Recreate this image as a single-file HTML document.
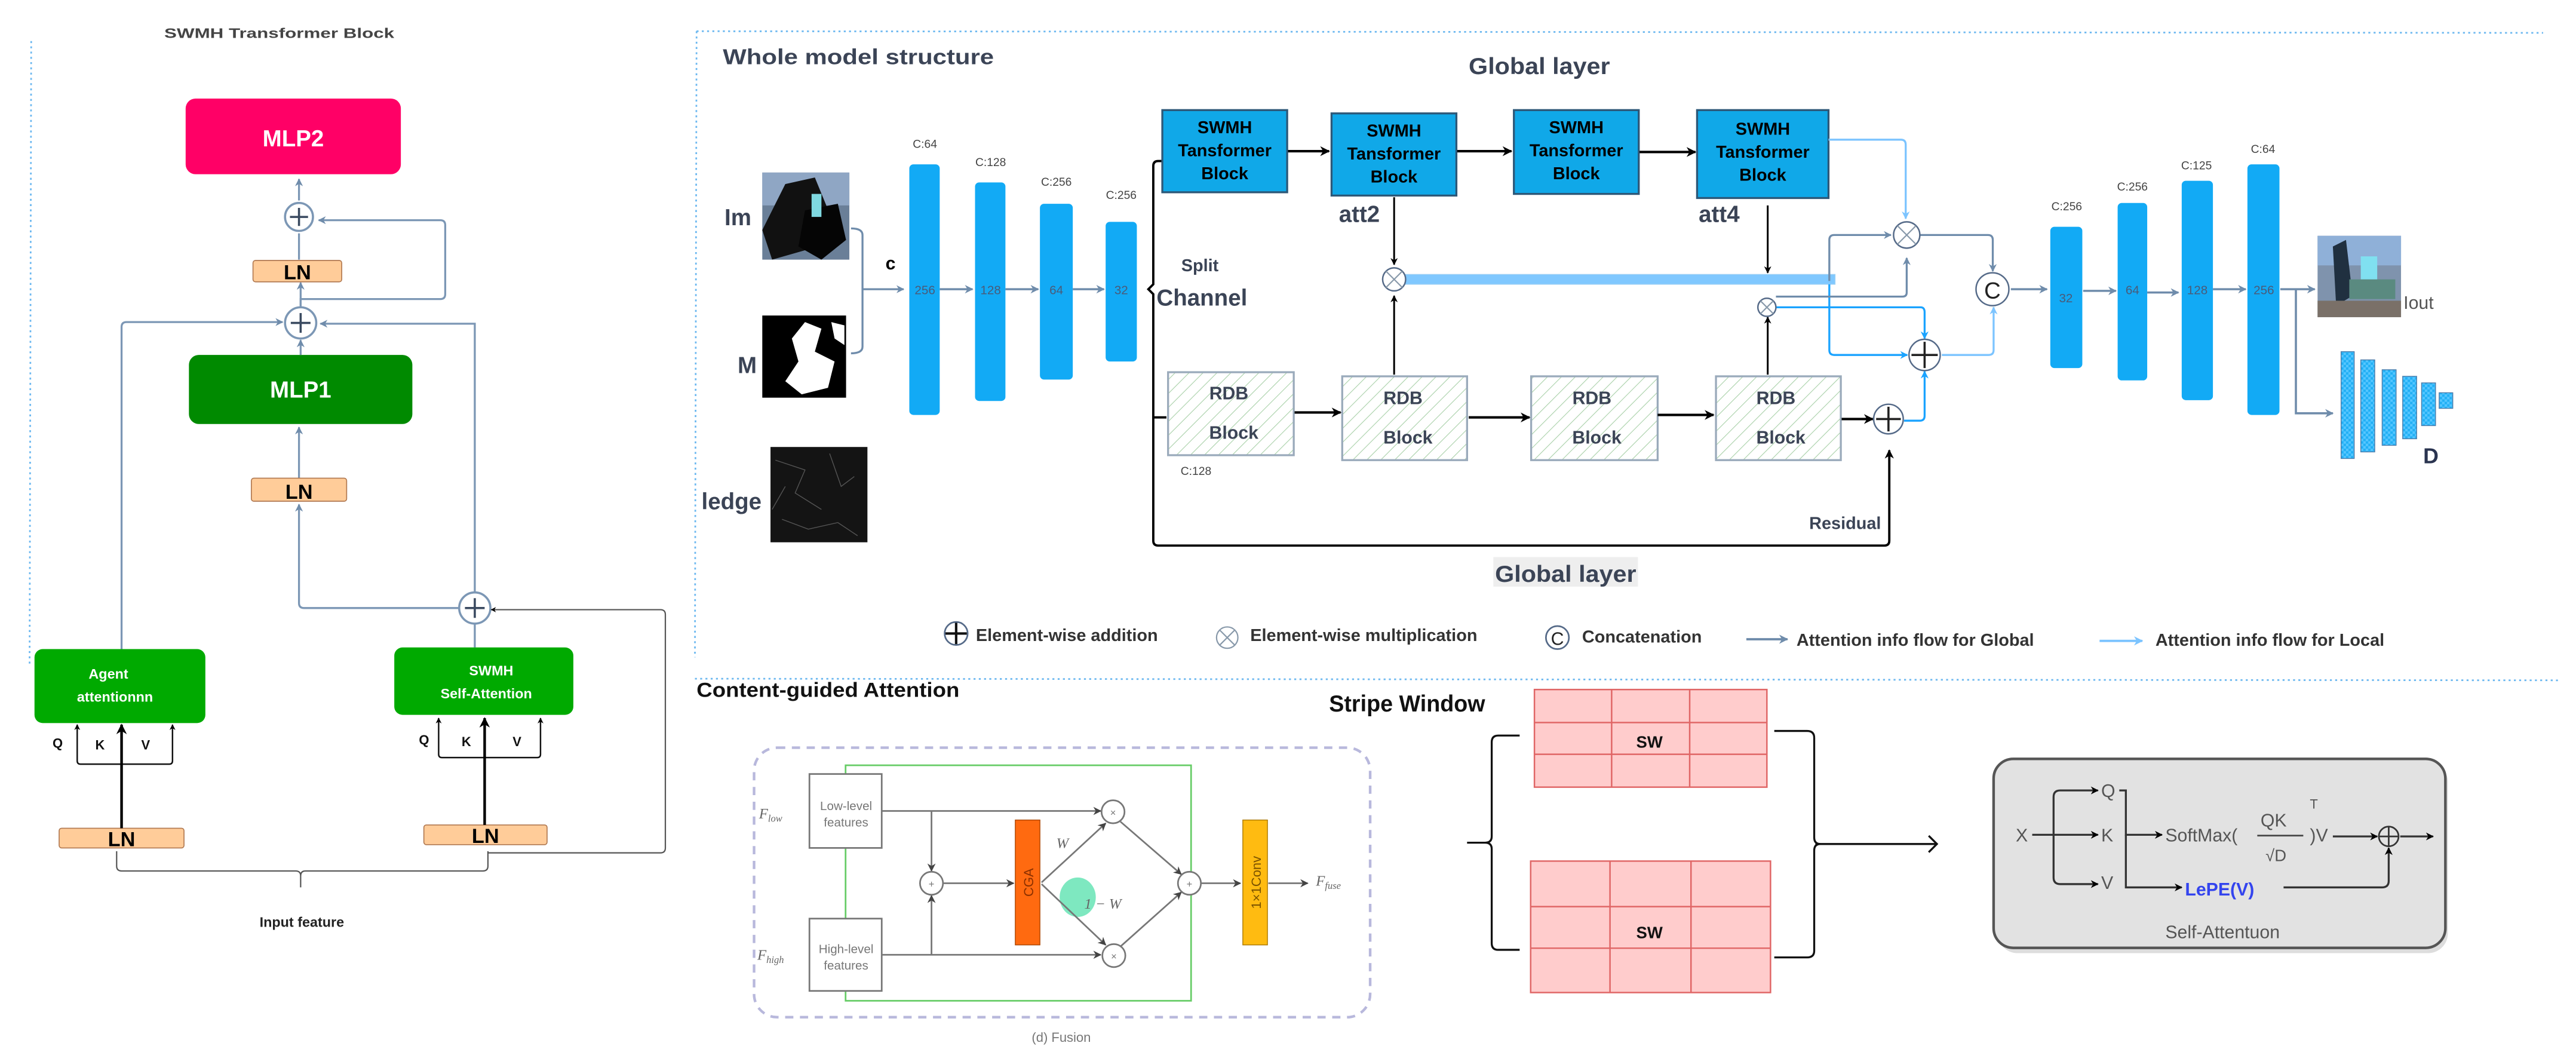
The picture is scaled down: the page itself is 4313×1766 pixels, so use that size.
<!DOCTYPE html>
<html><head><meta charset="utf-8"><style>
html,body{margin:0;padding:0;background:#fff;width:4313px;height:1766px;overflow:hidden}
svg{display:block}
text{font-family:"Liberation Sans Narrow","Liberation Sans",sans-serif}
.w{font-family:"Liberation Sans",sans-serif}
</style></head><body>
<svg width="4313" height="1766" viewBox="0 0 1568 642" preserveAspectRatio="none" xmlns="http://www.w3.org/2000/svg">
<defs>
<marker id="ak" viewBox="0 0 10 10" refX="9" refY="5" markerWidth="4" markerHeight="4" orient="auto-start-reverse"><path d="M0,0 L10,5 L0,10 L3,5z" fill="#000"/></marker>
<marker id="ag" viewBox="0 0 10 10" refX="9" refY="5" markerWidth="4" markerHeight="4" orient="auto-start-reverse"><path d="M0,0 L10,5 L0,10 L3,5z" fill="#6f8cab"/></marker>
<marker id="al" viewBox="0 0 10 10" refX="9" refY="5" markerWidth="4" markerHeight="4" orient="auto-start-reverse"><path d="M0,0 L10,5 L0,10 L3,5z" fill="#7cc4ff"/></marker>
<marker id="ab" viewBox="0 0 10 10" refX="9" refY="5" markerWidth="4" markerHeight="4" orient="auto-start-reverse"><path d="M0,0 L10,5 L0,10 L3,5z" fill="#1aa3ff"/></marker>
<marker id="ad" viewBox="0 0 10 10" refX="9" refY="5" markerWidth="5" markerHeight="5" orient="auto-start-reverse"><path d="M0,0 L10,5 L0,10 L3,5z" fill="#444"/></marker>
<pattern id="hatch" width="6" height="6" patternUnits="userSpaceOnUse" patternTransform="rotate(45)"><line x1="0" y1="0" x2="0" y2="6" stroke="#a8d0a8" stroke-width="0.8"/></pattern>
<pattern id="chk" width="3" height="3" patternUnits="userSpaceOnUse"><rect width="3" height="3" fill="#22b0f5"/><rect width="1.5" height="1.5" fill="#55c6ff"/><rect x="1.5" y="1.5" width="1.5" height="1.5" fill="#55c6ff"/></pattern>
</defs>

<!-- ============ LEFT PANEL ============ -->
<text x="100" y="23" font-size="8.5" font-weight="bold" fill="#444" class="w" textLength="140" lengthAdjust="spacingAndGlyphs">SWMH Transformer Block</text>
<line x1="19" y1="25" x2="18" y2="405" stroke="#6cb8f0" stroke-width="1" stroke-dasharray="1.2,2"/>

<rect x="113" y="60" width="131" height="46" rx="6" fill="#ff0066"/>
<text x="178.5" y="89" font-size="14" font-weight="bold" fill="#fff" text-anchor="middle" class="w">MLP2</text>
<rect x="115" y="216" width="136" height="42" rx="6" fill="#008a00"/>
<text x="183" y="242" font-size="14" font-weight="bold" fill="#fff" text-anchor="middle" class="w">MLP1</text>

<g stroke="#7c97b5" stroke-width="1.2" fill="none">
<line x1="182" y1="158" x2="182" y2="142" />
<line x1="182" y1="122" x2="182" y2="109" marker-end="url(#ag)"/>
<path d="M183,187 L183,182 L268,182 Q271,182 271,179 L271,137 Q271,134 268,134 L194,134" marker-end="url(#ag)"/>
<line x1="183" y1="186" x2="183" y2="172" marker-end="url(#ag)"/>
<line x1="183" y1="216" x2="183" y2="207" marker-end="url(#ag)"/>
<line x1="182" y1="291" x2="182" y2="260" marker-end="url(#ag)"/>
<path d="M74,395 L74,199 Q74,196 77,196 L172,196" marker-end="url(#ag)"/>
<path d="M289,360 L289,197 L195,197" marker-end="url(#ag)"/>
<path d="M280,370 L185,370 Q182,370 182,367 L182,307" marker-end="url(#ag)"/>
<line x1="289" y1="380" x2="289" y2="394"/>
</g>
<g fill="#fff" stroke="#7c97b5" stroke-width="1.3">
<circle cx="182" cy="132" r="8.5"/><circle cx="183" cy="196.5" r="9.5"/><circle cx="289" cy="370" r="9.5"/>
</g>
<g stroke="#3a4a60" stroke-width="1.3">
<line x1="176.5" y1="132" x2="187.5" y2="132"/><line x1="182" y1="126.5" x2="182" y2="137.5"/>
<line x1="177" y1="196.5" x2="189" y2="196.5"/><line x1="183" y1="190.5" x2="183" y2="202.5"/>
<line x1="283" y1="370" x2="295" y2="370"/><line x1="289" y1="364" x2="289" y2="376"/>
</g>

<g fill="#ffcc99" stroke="#b07850" stroke-width="0.6">
<rect x="154" y="158.5" width="54" height="13" rx="1.5"/>
<rect x="153" y="291" width="58" height="14" rx="1.5"/>
<rect x="36" y="504" width="76" height="12" rx="1.5"/>
<rect x="258" y="502" width="75" height="12" rx="1.5"/>
</g>
<g font-size="12.5" font-weight="bold" fill="#000" text-anchor="middle" class="w">
<text x="181" y="170">LN</text><text x="182" y="303.5">LN</text>
<text x="74" y="515">LN</text><text x="295.5" y="513">LN</text>
</g>

<rect x="21" y="395" width="104" height="45" rx="5" fill="#00aa00"/>
<text x="66" y="413" font-size="8.5" font-weight="bold" fill="#fff" text-anchor="middle" class="w">Agent</text>
<text x="70" y="427" font-size="8.5" font-weight="bold" fill="#fff" text-anchor="middle" class="w">attentionnn</text>
<rect x="240" y="394" width="109" height="41" rx="5" fill="#00aa00"/>
<text x="299" y="411" font-size="8.5" font-weight="bold" fill="#fff" text-anchor="middle" class="w">SWMH</text>
<text x="296" y="425" font-size="8.5" font-weight="bold" fill="#fff" text-anchor="middle" class="w">Self-Attention</text>

<g stroke="#111" stroke-width="0.9" fill="none">
<path d="M47,441 L47,463 Q47,465 49,465 L103,465 Q105,465 105,463 L105,441" marker-start="url(#ak)" marker-end="url(#ak)"/>
<path d="M267,437 L267,459 Q267,461 269,461 L327,461 Q329,461 329,459 L329,437" marker-start="url(#ak)" marker-end="url(#ak)"/>
</g>
<line x1="74" y1="504" x2="74" y2="441" stroke="#000" stroke-width="1.6" marker-end="url(#ak)"/>
<line x1="295" y1="502" x2="295" y2="437" stroke="#000" stroke-width="1.6" marker-end="url(#ak)"/>
<g font-size="8" font-weight="bold" fill="#111" class="w">
<text x="32" y="455">Q</text><text x="58" y="456">K</text><text x="86" y="456">V</text>
<text x="255" y="453">Q</text><text x="281" y="454">K</text><text x="312" y="454">V</text>
</g>
<path d="M71,518 L71,527 Q71,530 74,530 L180,530 Q183,530 183,533 L183,540 M183,533 Q183,530 186,530 L294,530 Q297,530 297,527 L297,518" stroke="#555" stroke-width="0.8" fill="none"/>
<path d="M297,519 L402,519 Q405,519 405,516 L405,374 Q405,371 402,371 L299,371" stroke="#555" stroke-width="0.8" fill="none" marker-end="url(#ak)"/>
<text x="158" y="564" font-size="8.5" font-weight="bold" fill="#222" class="w">Input feature</text>

<!-- ============ WHOLE MODEL ============ -->
<line x1="424" y1="19" x2="1548" y2="20" stroke="#6cb8f0" stroke-width="1" stroke-dasharray="1.2,2"/>
<line x1="424" y1="19" x2="423" y2="400" stroke="#6cb8f0" stroke-width="1" stroke-dasharray="1.2,2"/>
<line x1="423" y1="413" x2="1558" y2="414" stroke="#6cb8f0" stroke-width="1" stroke-dasharray="1.2,2"/>

<text x="440" y="39" font-size="13" font-weight="bold" fill="#3b4456" textLength="165" lengthAdjust="spacingAndGlyphs">Whole model structure</text>
<text x="894" y="45" font-size="14" font-weight="bold" fill="#3b4456" textLength="86" lengthAdjust="spacingAndGlyphs">Global layer</text>

<!-- images -->
<rect x="464" y="105" width="53" height="53" fill="#6a7f98"/>
<rect x="464" y="105" width="53" height="20" fill="#8fa6c4"/>
<path d="M478,112 L496,108 L505,130 L498,150 L470,158 L464,140z" fill="#111"/>
<path d="M490,128 L510,124 L515,146 L500,158 L486,150z" fill="#050505"/>
<rect x="494" y="118" width="6" height="14" fill="#7fd8e0"/>
<rect x="464" y="192" width="51" height="50" fill="#000"/>
<path d="M490,196 L500,200 L496,214 L508,220 L504,236 L488,240 L478,232 L486,220 L482,206z" fill="#fff"/>
<path d="M506,196 L514,198 L514,210 L508,206z" fill="#fff"/>
<rect x="469" y="272" width="59" height="58" fill="#141414"/>
<g stroke="#555" stroke-width="0.5" fill="none"><path d="M472,280 L490,286 L484,300 L500,310 M505,276 L512,296 L520,290 M476,316 L492,322 L510,318 L522,326 M478,296 L470,310"/></g>
<text x="441" y="137" font-size="14" font-weight="bold" fill="#3b4456">Im</text>
<text x="449" y="227" font-size="14" font-weight="bold" fill="#3b4456">M</text>
<text x="427" y="310" font-size="14" font-weight="bold" fill="#3b4456">ledge</text>
<path d="M518,139 Q525,139 525,143 L525,211 Q525,215 518,215 M525,176 L550,176" stroke="#6f8cab" stroke-width="1.2" fill="none" marker-end="url(#ag)"/>
<text x="539" y="164" font-size="11" font-weight="bold" fill="#000" class="w">c</text>

<!-- encoder -->
<g fill="#12aaf5">
<rect x="553.5" y="100" width="18.5" height="152.5" rx="2.5"/>
<rect x="593.5" y="111" width="18.5" height="133" rx="2.5"/>
<rect x="633" y="124" width="20" height="107" rx="2.5"/>
<rect x="673" y="135" width="19" height="85" rx="2.5"/>
<rect x="1248" y="138" width="19.5" height="86" rx="2.5"/>
<rect x="1289" y="123.5" width="18" height="108" rx="2.5"/>
<rect x="1328" y="110" width="19" height="133.5" rx="2.5"/>
<rect x="1368" y="100" width="19.5" height="152.5" rx="2.5"/>
</g>
<g font-size="7" fill="#444" text-anchor="middle">
<text x="563" y="90">C:64</text><text x="603" y="101">C:128</text><text x="643" y="113">C:256</text><text x="682.5" y="121">C:256</text>
<text x="1258" y="128">C:256</text><text x="1298" y="116">C:256</text><text x="1337" y="103">C:125</text><text x="1377.5" y="93">C:64</text>
<text x="728" y="289">C:128</text>
</g>
<g font-size="7.5" fill="#4a5a78" text-anchor="middle">
<text x="563" y="179">256</text><text x="603" y="179">128</text><text x="643" y="179">64</text><text x="682.5" y="179">32</text>
<text x="1257.5" y="184">32</text><text x="1298" y="179">64</text><text x="1337.5" y="179">128</text><text x="1378" y="179">256</text>
</g>
<g stroke="#6f8cab" stroke-width="1.3" marker-end="url(#ag)">
<line x1="572" y1="176" x2="592" y2="176"/><line x1="612" y1="176" x2="632" y2="176"/><line x1="653" y1="176" x2="672" y2="176"/>
<line x1="1224" y1="176" x2="1246" y2="176"/><line x1="1268" y1="177" x2="1288" y2="177"/><line x1="1307" y1="178" x2="1326" y2="178"/><line x1="1347" y1="176" x2="1367" y2="176"/>
<line x1="1388" y1="176" x2="1409" y2="176"/>
</g>
<path d="M1397.5,176 L1397.5,251.5 L1420,251.5" stroke="#6f8cab" stroke-width="1.3" fill="none" marker-end="url(#ag)"/>

<!-- split brace -->
<path d="M708,98 L705,98 Q702,98 702,101 L702,173 L699,176 L702,179 L702,329 Q702,332 705,332 L1147,332 Q1150,332 1150,329 L1150,274" stroke="#000" stroke-width="1.4" fill="none" marker-end="url(#ak)"/>
<line x1="702" y1="254" x2="710" y2="254" stroke="#000" stroke-width="1.4"/>
<text x="719" y="165" font-size="10.5" font-weight="bold" fill="#3b4456">Split</text>
<text x="704" y="186" font-size="14" font-weight="bold" fill="#3b4456">Channel</text>

<!-- SWMH blocks -->
<g fill="#10a8e8" stroke="#2d5878" stroke-width="1.2">
<rect x="707.5" y="67" width="76" height="50"/>
<rect x="810.5" y="69" width="76" height="50"/>
<rect x="921.5" y="67" width="76" height="51"/>
<rect x="1033" y="67" width="80" height="53.5"/>
</g>
<g font-size="10.5" font-weight="bold" fill="#000" text-anchor="middle">
<text x="745.5" y="81">SWMH</text><text x="745.5" y="95">Tansformer</text><text x="745.5" y="109">Block</text>
<text x="848.5" y="83">SWMH</text><text x="848.5" y="97">Tansformer</text><text x="848.5" y="111">Block</text>
<text x="959.5" y="81">SWMH</text><text x="959.5" y="95">Tansformer</text><text x="959.5" y="109">Block</text>
<text x="1073" y="82">SWMH</text><text x="1073" y="96">Tansformer</text><text x="1073" y="110">Block</text>
</g>
<g stroke="#000" stroke-width="1.5" marker-end="url(#ak)">
<line x1="784" y1="92" x2="809" y2="92"/><line x1="887" y1="92" x2="920" y2="92"/><line x1="998" y1="92.5" x2="1032" y2="92.5"/>
</g>
<text x="815" y="135" font-size="14" font-weight="bold" fill="#3b4456">att2</text>
<text x="1034" y="135" font-size="14" font-weight="bold" fill="#3b4456">att4</text>

<!-- light blue bar -->
<rect x="855" y="167" width="262" height="6" fill="#80c8ff" stroke="#9bd0f5" stroke-width="0.5"/>

<!-- RDB blocks -->
<g fill="url(#hatch)" stroke="#9aaabb" stroke-width="1.2">
<rect x="711" y="226.5" width="76.5" height="50.5"/>
<rect x="817" y="229" width="76" height="51"/>
<rect x="932" y="229" width="77" height="51"/>
<rect x="1044.5" y="229" width="76" height="51"/>
</g>
<g font-size="11" font-weight="bold" fill="#3b4456" text-anchor="middle">
<text x="748" y="243">RDB</text><text x="751" y="267">Block</text>
<text x="854" y="246">RDB</text><text x="857" y="270">Block</text>
<text x="969" y="246">RDB</text><text x="972" y="270">Block</text>
<text x="1081" y="246">RDB</text><text x="1084" y="270">Block</text>
</g>
<g stroke="#000" stroke-width="1.5" marker-end="url(#ak)">
<line x1="788" y1="251" x2="816" y2="251"/><line x1="894" y1="254" x2="931" y2="254"/><line x1="1009" y1="252.5" x2="1043" y2="252.5"/>
<line x1="1121" y1="255" x2="1140" y2="255"/>
</g>
<g stroke="#000" stroke-width="1.1" marker-end="url(#ak)">
<line x1="848.6" y1="120" x2="848.6" y2="161"/><line x1="848.6" y1="228" x2="848.6" y2="180"/>
<line x1="1076" y1="125" x2="1076" y2="166"/><line x1="1076" y1="228" x2="1076" y2="193"/>
</g>

<!-- connections to C -->
<path d="M1113,85 L1157,85 Q1160,85 1160,88 L1160,133" stroke="#7cc4ff" stroke-width="1.2" fill="none" marker-end="url(#al)"/>
<path d="M1113.5,171 L1113.5,146 Q1113.5,143 1116.5,143 L1151,143" stroke="#6f8cab" stroke-width="1.2" fill="none" marker-end="url(#ag)"/>
<path d="M1113.5,173 L1113.5,213 Q1113.5,216 1116.5,216 L1161,216" stroke="#1aa3ff" stroke-width="1.2" fill="none" marker-end="url(#ab)"/>
<path d="M1081,180.5 L1158,180.5 Q1160.6,180.5 1160.6,178 L1160.6,157" stroke="#6f8cab" stroke-width="1.2" fill="none" marker-end="url(#ag)"/>
<path d="M1081,187 L1169,187 Q1171.5,187 1171.5,190 L1171.5,206" stroke="#1aa3ff" stroke-width="1.2" fill="none" marker-end="url(#ab)"/>
<path d="M1169,143 L1210,143 Q1213,143 1213,146 L1213,165" stroke="#6f8cab" stroke-width="1.2" fill="none" marker-end="url(#ag)"/>
<path d="M1182,216 L1210.5,216 Q1213.5,216 1213.5,213 L1213.5,187" stroke="#7cc4ff" stroke-width="1.2" fill="none" marker-end="url(#al)"/>
<path d="M1159,256 L1168.5,256 Q1171.5,256 1171.5,253 L1171.5,226" stroke="#1aa3ff" stroke-width="1.2" fill="none" marker-end="url(#ab)"/>
<text x="1145" y="322" font-size="10.5" font-weight="bold" fill="#3b4456" text-anchor="end">Residual</text>

<!-- circles -->
<g fill="#fff" stroke="#556a88" stroke-width="0.9">
<circle cx="848.6" cy="170" r="7"/><circle cx="1160.6" cy="143" r="8"/><circle cx="1075.5" cy="187" r="5.5"/>
<circle cx="1149.5" cy="255" r="9"/><circle cx="1171.5" cy="216" r="9.5"/><circle cx="1212.8" cy="176" r="10"/>
</g>
<g stroke="#8899aa" stroke-width="0.8">
<path d="M843.6,165 L853.6,175 M853.6,165 L843.6,175"/>
<path d="M1155,137.4 L1166.2,148.6 M1166.2,137.4 L1155,148.6"/>
<path d="M1071.6,183.1 L1079.4,190.9 M1079.4,183.1 L1071.6,190.9"/>
</g>
<g stroke="#222" stroke-width="1.3">
<path d="M1142,255 L1157,255 M1149.5,247.5 L1149.5,262.5"/>
<path d="M1163.5,216 L1179.5,216 M1171.5,208 L1171.5,224"/>
</g>
<text x="1212.8" y="181.5" font-size="14" fill="#222" text-anchor="middle">C</text>

<!-- output -->
<rect x="1410.7" y="143.5" width="50.8" height="49.5" fill="#7f93ad"/>
<rect x="1410.7" y="143.5" width="50.8" height="18" fill="#8fb0d8"/>
<path d="M1420,150 L1428,146 L1432,180 L1422,186z" fill="#203040"/>
<rect x="1437" y="156" width="10" height="16" fill="#80e0f0"/>
<rect x="1430" y="170" width="28" height="12" fill="#5a8a80"/>
<rect x="1410.7" y="183" width="50.8" height="10" fill="#7a7068"/>
<text x="1463" y="188" font-size="11" fill="#555">Iout</text>
<g fill="url(#chk)" stroke="#4a7aa8" stroke-width="0.5">
<rect x="1425" y="214" width="8" height="65"/><rect x="1437" y="219" width="8.5" height="56"/><rect x="1450" y="225" width="8.5" height="46"/>
<rect x="1462.5" y="229" width="8.5" height="38"/><rect x="1474" y="233" width="8.5" height="26"/><rect x="1484.7" y="239" width="8.3" height="9.5"/>
</g>
<text x="1475" y="282" font-size="13" font-weight="bold" fill="#2a3450" class="w">D</text>

<!-- lower global layer -->
<rect x="909" y="339" width="88" height="18" fill="#eeeeee"/>
<text x="910" y="354" font-size="14" font-weight="bold" fill="#3b4456" textLength="86" lengthAdjust="spacingAndGlyphs">Global layer</text>

<!-- legend -->
<circle cx="582" cy="385.5" r="7" fill="#fff" stroke="#556a88" stroke-width="1"/>
<path d="M575.5,385.5 L588.5,385.5 M582,379 L582,392" stroke="#111" stroke-width="1.5"/>
<text x="594" y="390" font-size="10.5" font-weight="bold" fill="#333">Element-wise addition</text>
<circle cx="747" cy="388" r="6.5" fill="#fff" stroke="#8899aa" stroke-width="0.8"/>
<path d="M742.4,383.4 L751.6,392.6 M751.6,383.4 L742.4,392.6" stroke="#8899aa" stroke-width="0.8"/>
<text x="761" y="390" font-size="10.5" font-weight="bold" fill="#333">Element-wise multiplication</text>
<circle cx="948" cy="388" r="7" fill="#fff" stroke="#556a88" stroke-width="1"/>
<text x="948" y="392.5" font-size="11" fill="#222" text-anchor="middle">C</text>
<text x="963" y="391" font-size="10.5" font-weight="bold" fill="#333">Concatenation</text>
<line x1="1063" y1="389" x2="1088" y2="389" stroke="#6f8cab" stroke-width="1.4" marker-end="url(#ag)"/>
<text x="1093.5" y="393" font-size="10.5" font-weight="bold" fill="#333">Attention info flow for Global</text>
<line x1="1278" y1="390" x2="1304" y2="390" stroke="#7cc4ff" stroke-width="1.4" marker-end="url(#al)"/>
<text x="1312" y="393" font-size="10.5" font-weight="bold" fill="#333">Attention info flow for Local</text>

<!-- ============ CONTENT-GUIDED ATTENTION ============ -->
<text x="424" y="424" font-size="12.5" font-weight="bold" fill="#111" textLength="160" lengthAdjust="spacingAndGlyphs">Content-guided Attention</text>
<rect x="459" y="455" width="375" height="164" rx="14" fill="none" stroke="#b8b8dc" stroke-width="1.6" stroke-dasharray="5,4"/>
<rect x="514.7" y="465.7" width="210.3" height="143.3" fill="none" stroke="#66cc66" stroke-width="1"/>
<g fill="#fff" stroke="#777" stroke-width="1">
<rect x="492.7" y="471" width="44" height="45"/><rect x="492.7" y="559" width="44" height="44"/>
</g>
<g font-size="7.5" fill="#777" text-anchor="middle">
<text x="515" y="493">Low-level</text><text x="515" y="503">features</text>
<text x="515" y="580">High-level</text><text x="515" y="590">features</text>
</g>
<g font-size="9" font-style="italic" fill="#666" font-family="Liberation Serif,serif">
<text x="462" y="498" style="font-family:'Liberation Serif',serif">F<tspan font-size="6" dy="2">low</tspan></text>
<text x="461" y="584" style="font-family:'Liberation Serif',serif">F<tspan font-size="6" dy="2">high</tspan></text>
<text x="801" y="539" style="font-family:'Liberation Serif',serif">F<tspan font-size="6" dy="2">fuse</tspan></text>
<text x="643" y="516" style="font-family:'Liberation Serif',serif">W</text>
</g>
<ellipse cx="656" cy="546" rx="11" ry="12" fill="#7ee8c0"/>
<text x="660" y="553" font-size="9" font-style="italic" fill="#666" style="font-family:'Liberation Serif',serif">1 − W</text>
<g stroke="#777" stroke-width="1" fill="none" marker-end="url(#ad)">
<line x1="537" y1="493.5" x2="670" y2="493.5"/><line x1="537" y1="581" x2="670" y2="581"/>
<line x1="567" y1="493.5" x2="567" y2="530"/><line x1="567" y1="581" x2="567" y2="545"/>
<line x1="574" y1="537.5" x2="617" y2="537.5"/>
<line x1="634" y1="537" x2="673" y2="501"/><line x1="634" y1="538" x2="673" y2="575"/>
<line x1="682" y1="500" x2="719" y2="532"/><line x1="682" y1="576" x2="719" y2="543"/>
<line x1="731" y1="537.5" x2="755" y2="537.5"/><line x1="772" y1="537.5" x2="796" y2="537.5"/>
</g>
<g fill="#fff" stroke="#777" stroke-width="1">
<circle cx="567" cy="537.5" r="7"/><circle cx="677.5" cy="494" r="7"/><circle cx="678" cy="581.5" r="7"/><circle cx="724" cy="537.5" r="7"/>
</g>
<g font-size="6" fill="#777" text-anchor="middle"><text x="567" y="540">+</text><text x="677.5" y="496.5">×</text><text x="678" y="584">×</text><text x="724" y="540">+</text></g>
<rect x="618" y="499" width="15" height="76" fill="#ff6a10" stroke="#aa4400" stroke-width="0.5"/>
<rect x="756.5" y="499" width="15" height="76" fill="#ffbb11" stroke="#aa7700" stroke-width="0.5"/>
<text transform="translate(629,537) rotate(-90)" font-size="8" fill="#8a3000" text-anchor="middle">CGA</text>
<text transform="translate(767.5,537) rotate(-90)" font-size="8" fill="#7a5200" text-anchor="middle">1×1Conv</text>
<text x="646" y="634" font-size="8" fill="#777" text-anchor="middle">(d) Fusion</text>

<!-- ============ STRIPE WINDOW ============ -->
<text x="809" y="433" font-size="14" font-weight="bold" fill="#111" textLength="95" lengthAdjust="spacingAndGlyphs">Stripe Window</text>
<g fill="#ffcccc" stroke="#e06666" stroke-width="0.9">
<rect x="934" y="419.6" width="141.5" height="59.4"/>
<rect x="931.7" y="524" width="146" height="80"/>
</g>
<g stroke="#e06666" stroke-width="0.9">
<path d="M981,419.6 V479 M1028.5,419.6 V479 M934,439.7 H1075.5 M934,459 H1075.5"/>
<path d="M980,524 V604 M1029.3,524 V604 M931.7,551.7 H1077.7 M931.7,577 H1077.7"/>
</g>
<text x="1004" y="455" font-size="10" font-weight="bold" fill="#111" text-anchor="middle">SW</text>
<text x="1004" y="571" font-size="10" font-weight="bold" fill="#111" text-anchor="middle">SW</text>
<path d="M925,447.6 L912,447.6 Q908,447.6 908,451.6 L908,509 Q908,512.8 904,512.8 L893,512.8 M904,512.8 Q908,512.8 908,516.6 L908,574 Q908,578 912,578 L925,578" stroke="#111" stroke-width="1.2" fill="none"/>
<path d="M1080,444.8 L1100,444.8 Q1104.3,444.8 1104.3,449 L1104.3,509.6 Q1104.3,513.6 1108,513.6 M1108,513.6 Q1104.3,513.6 1104.3,517.6 L1104.3,578.6 Q1104.3,582.6 1100,582.6 L1080,582.6" stroke="#111" stroke-width="1.2" fill="none"/>
<line x1="1105" y1="513.6" x2="1179" y2="513.6" stroke="#111" stroke-width="1.2"/>
<path d="M1174,508.6 L1179,513.6 L1174,518.6" stroke="#111" stroke-width="1.2" fill="none"/>

<!-- self attention -->
<rect x="1216" y="464" width="274" height="116" rx="12" fill="#bbb" opacity="0.5"/>
<rect x="1213.5" y="461.8" width="275" height="115" rx="12" fill="#e2e2e2" stroke="#555" stroke-width="1.6"/>
<g font-size="11" fill="#555">
<text x="1227" y="512">X</text><text x="1279" y="485">Q</text><text x="1279" y="512">K</text><text x="1279" y="541">V</text>
<text x="1318" y="512">SoftMax(</text><text x="1376" y="503">QK</text><text x="1406" y="492" font-size="8">T</text>
<text x="1379" y="524" font-size="10">√D</text><text x="1406" y="512">)V</text>
<text x="1318" y="571" font-size="11">Self-Attentuon</text>
</g>
<line x1="1374" y1="508.5" x2="1402" y2="508.5" stroke="#444" stroke-width="1"/>
<text x="1330" y="545" font-size="11" font-weight="bold" fill="#3344ee">LePE(V)</text>
<g stroke="#333" stroke-width="1.2" fill="none" marker-end="url(#ak)">
<line x1="1237" y1="508" x2="1277" y2="508"/>
<path d="M1250,508 L1250,485 Q1250,481 1254,481 L1277,481"/>
<path d="M1250,508 L1250,534 Q1250,538 1254,538 L1277,538"/>
<path d="M1290,481 L1294,481 L1294,508 L1316,508"/>
<path d="M1294,508 L1294,540 L1328,540"/>
<line x1="1420" y1="509" x2="1447" y2="509"/>
<path d="M1390,540 L1450,540 Q1454,540 1454,536 L1454,516"/>
<line x1="1461" y1="509" x2="1481" y2="509"/>
</g>
<circle cx="1454" cy="509" r="6" fill="none" stroke="#333" stroke-width="1"/>
<path d="M1448,509 H1460 M1454,503 V515" stroke="#333" stroke-width="1"/>
</svg>
</body></html>
